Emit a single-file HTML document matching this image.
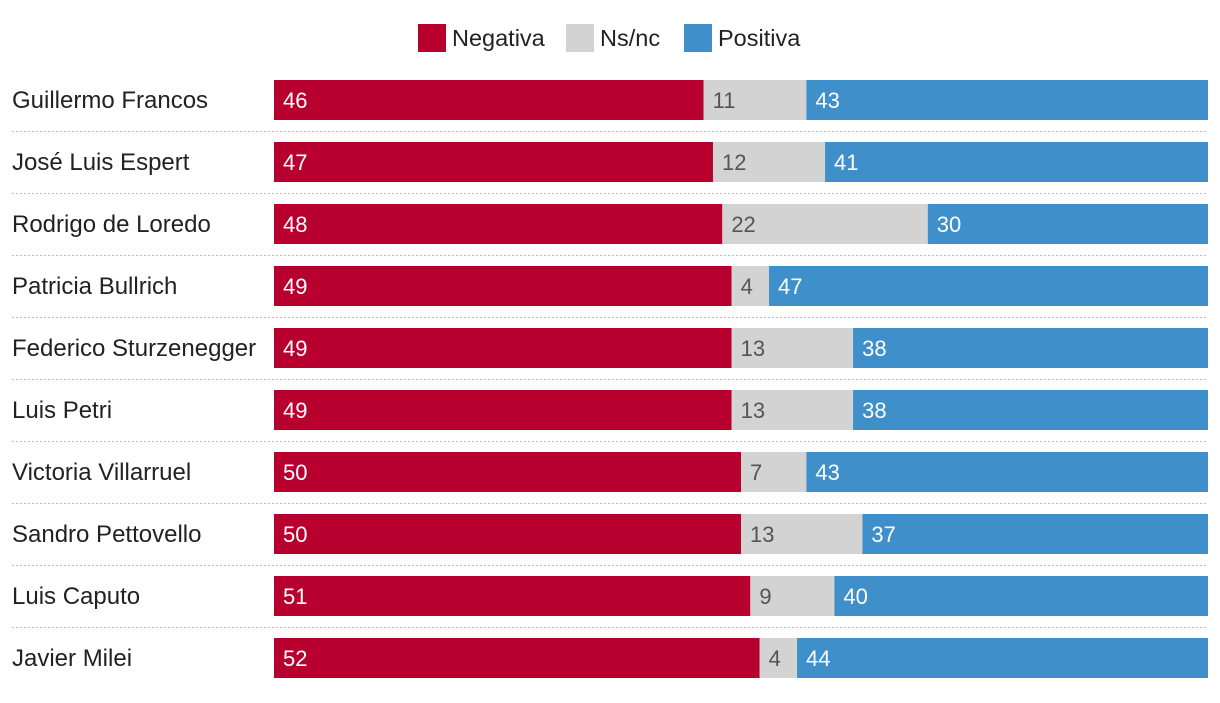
<!DOCTYPE html>
<html><head><meta charset="utf-8"><style>
body{margin:0;background:#fff;width:1220px;height:698px;overflow:hidden;font-family:"Liberation Sans",sans-serif}
</style></head><body>
<svg id="chart" width="1220" height="698" xmlns="http://www.w3.org/2000/svg"></svg>
<script>
const names=["Guillermo Francos","José Luis Espert","Rodrigo de Loredo","Patricia Bullrich","Federico Sturzenegger","Luis Petri","Victoria Villarruel","Sandro Pettovello","Luis Caputo","Javier Milei"];
const negativa=[46,47,48,49,49,49,50,50,51,52];
const nsnc=[11,12,22,4,13,13,7,13,9,4];
const positiva=[43,41,30,47,38,38,43,37,40,44];
const seriesNames=["Negativa","Ns/nc","Positiva"];
const colors=["#b8002f","#d3d3d3","#3f8fcb"];
const textColors=["#fff","#555","#fff"];
const svg=document.getElementById('chart');
const NS="http://www.w3.org/2000/svg";
const x0=274,x1=1208,rowTop=80,pitch=62,bh=40;
const total=i=>negativa[i]+nsnc[i]+positiva[i];
function mk(t,a){const e=document.createElementNS(NS,t);for(const k in a)e.setAttribute(k,a[k]);svg.appendChild(e);return e;}
const legX=[418,566,684];
seriesNames.forEach((s,j)=>{
 const r=mk('rect',{x:legX[j],y:24,width:28,height:28,fill:colors[j]});
 
 
 const t=mk('text',{x:legX[j]+34,y:46,'font-size':23.5,fill:'#222'});t.textContent=s;
 
 
});
const series=[negativa,nsnc,positiva];
names.forEach((n,i)=>{
 const y=rowTop+i*pitch;
 const lab=mk('text',{x:12,y:y+28,'font-size':24,fill:'#222'});lab.textContent=n;
 
 
 let acc=0;const tot=total(i);
 series.forEach((arr,j)=>{
  const xs=x0+(x1-x0)*acc/tot, w=(x1-x0)*arr[i]/tot;
  const r=mk('rect',{x:xs,y:y,width:w,height:bh,fill:colors[j]});
  
  
  const t=mk('text',{x:xs+9,y:y+28,'font-size':22,fill:textColors[j]});t.textContent=arr[i];
  
  
  acc+=arr[i];
 });
 if(i<names.length-1){
  const l=mk('line',{x1:12,x2:1208,y1:y+bh+11.5,y2:y+bh+11.5,stroke:'#bbb','stroke-width':1,'stroke-dasharray':'2,2'});
  
  
 }
});
</script>
</body></html>
